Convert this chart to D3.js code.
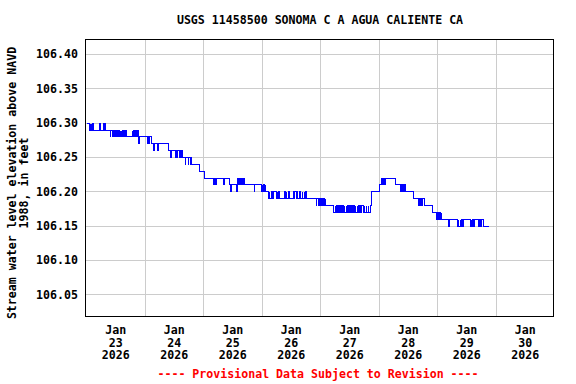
<!DOCTYPE html>
<html><head><meta charset="utf-8">
<script src="https://cdn.jsdelivr.net/npm/d3@7"></script>
<style>
body{margin:0;background:#fff}
svg text{font-family:"DejaVu Sans Mono","Liberation Mono",monospace;font-weight:bold;}
</style>
</head><body><svg id="c" width="576" height="384"></svg>
<script>
// ---- data ----
const title = "USGS 11458500 SONOMA C A AGUA CALIENTE CA";
const yTitleLines = ["Stream water level elevation above NAVD", "1988, in feet"];
const footer = "---- Provisional Data Subject to Revision ----";
const dayLabels = ["23","24","25","26","27","28","29","30"];
const monthLabel = "Jan";
const yearLabel = "2026";
const yTicks = [106.05,106.10,106.15,106.20,106.25,106.30,106.35,106.40];
// hours since Jan 23 2026 00:00 where the reading changes, and the level from then on
const hours = [0,1.25,1.5,1.75,2.0,2.25,2.5,2.75,5.5,5.75,7.0,7.25,7.5,7.75,
 9.75,10.0,10.5,10.75,11.25,11.5,11.75,12.0,12.25,12.5,12.75,13.0,13.5,13.75,14.0,14.25,14.5,14.75,15.0,15.25,15.75,16.0,16.5,
 18.75,19.0,19.25,19.5,19.75,20.25,20.5,20.75,21.0,21.25,21.5,21.75,
 25.0,25.25,25.75,26.0,26.5,27.5,27.75,29.25,29.5,33.75,34.5,34.75,
 36.5,36.75,37.25,37.5,38.0,38.25,38.75,39.0,39.5,40.5,40.75,41.75,42.0,42.5,42.75,43.0,
 46.25,48.5,52.25,52.5,52.75,53.25,56.0,56.5,58.75,59.25,59.5,61.5,61.75,
 62.0,62.5,62.75,63.0,63.75,64.0,64.25,64.75,68.75,69.0,
 71.75,72.0,72.25,72.5,73.0,73.25,73.5,74.75,75.0,75.25,75.75,76.5,76.75,78.0,78.25,78.5,78.75,79.0,
 81.25,81.5,82.0,82.25,83.0,83.25,85.0,85.25,85.5,86.0,86.25,86.5,87.25,87.75,88.5,88.75,89.25,89.5,89.75,90.25,
 94.25,94.5,95.0,95.25,95.75,96.0,96.25,96.5,97.0,97.25,97.5,98.0,98.25,
 101.5,102.0,102.25,102.75,103.0,103.5,103.75,104.25,104.5,105.0,105.25,105.75,106.0,106.5,106.75,107.25,107.5,108.0,108.25,108.75,
 109.0,109.5,110.0,110.25,110.5,111.0,111.25,111.75,112.0,112.5,112.75,113.0,113.5,114.0,114.25,114.75,115.0,115.5,115.75,
 116.5,116.75,117.0,120.25,121.0,121.5,121.75,122.25,122.5,126.75,
 129.0,129.25,129.5,129.75,130.25,130.5,130.75,134.0,136.25,136.5,137.0,137.25,137.75,138.0,138.5,141.75,
 143.75,144.0,144.5,144.75,145.25,145.5,145.75,148.5,148.75,
 152.25,152.5,152.75,153.25,153.5,154.0,154.25,154.5,157.5,157.75,158.0,158.25,158.75,159.0,
 161.0,161.25,161.75,162.25,163.0,164.75];
const levels = [106.30,106.29,106.30,106.29,106.30,106.29,106.30,106.29,106.30,106.29,106.30,106.29,106.30,106.29,
 106.28,106.29,106.28,106.29,106.28,106.29,106.28,106.29,106.28,106.29,106.28,106.29,106.28,106.29,106.28,106.29,106.28,106.29,106.28,106.29,106.28,106.29,106.28,
 106.29,106.28,106.29,106.28,106.29,106.28,106.29,106.28,106.29,106.28,106.27,106.28,
 106.27,106.28,106.27,106.28,106.27,106.26,106.27,106.26,106.27,106.26,106.25,106.26,
 106.25,106.26,106.25,106.26,106.25,106.26,106.25,106.26,106.25,106.24,106.25,106.24,106.25,106.24,106.25,106.24,
 106.23,106.22,106.21,106.22,106.21,106.22,106.21,106.22,106.21,106.20,106.21,106.20,106.21,
 106.22,106.21,106.22,106.21,106.22,106.21,106.22,106.21,106.20,106.21,
 106.20,106.21,106.20,106.21,106.20,106.21,106.20,106.19,106.20,106.19,106.20,106.19,106.20,106.19,106.20,106.19,106.20,106.19,
 106.20,106.19,106.20,106.19,106.20,106.19,106.20,106.19,106.20,106.19,106.20,106.19,106.20,106.19,106.20,106.19,106.20,106.19,106.20,106.19,
 106.18,106.19,106.18,106.19,106.18,106.19,106.18,106.19,106.18,106.19,106.18,106.19,106.18,
 106.17,106.18,106.17,106.18,106.17,106.18,106.17,106.18,106.17,106.18,106.17,106.18,106.17,106.18,106.17,106.18,106.17,106.18,106.17,106.18,
 106.17,106.18,106.17,106.18,106.17,106.18,106.17,106.18,106.17,106.18,106.17,106.18,106.17,106.18,106.17,106.18,106.17,106.18,106.17,
 106.18,106.19,106.20,106.21,106.22,106.21,106.22,106.21,106.22,106.21,
 106.20,106.21,106.20,106.21,106.20,106.21,106.20,106.19,106.18,106.19,106.18,106.19,106.18,106.19,106.18,106.17,
 106.16,106.17,106.16,106.17,106.16,106.17,106.16,106.15,106.16,
 106.15,106.16,106.15,106.16,106.15,106.16,106.15,106.16,106.15,106.16,106.15,106.16,106.15,106.16,
 106.15,106.16,106.15,106.16,106.15,106.15];

// ---- layout ----
const L = 86, R = 554, T = 39, B = 316;
const t0 = new Date(Date.UTC(2026,0,23));
const t1 = new Date(Date.UTC(2026,0,31));
const hourMs = 3600e3;
const svg = d3.select("#c");
svg.append("rect").attr("width",576).attr("height",384).attr("fill","#fff");

const x = d3.scaleUtc().domain([t0,t1]).range([L,R]);
const y = d3.scaleLinear().domain([106.0184,106.4218]).range([B,T]);

// vertical grid at day boundaries
const gridDays = d3.utcDay.range(d3.utcDay.offset(t0,1), t1);
svg.append("g").attr("transform",`translate(0,${B})`)
  .call(d3.axisBottom(x).tickValues(gridDays).tickSize(-(B-T)).tickFormat(""))
  .call(g=>g.select(".domain").remove())
  .call(g=>g.selectAll("line").attr("stroke","#cccccc").attr("shape-rendering","crispEdges"));

// horizontal grid + labels
svg.append("g").attr("transform",`translate(${L},0)`)
  .call(d3.axisLeft(y).tickValues(yTicks).tickSize(-(R-L)).tickPadding(8).tickFormat(d3.format(".2f")))
  .call(g=>g.select(".domain").remove())
  .call(g=>g.selectAll("line").attr("stroke","#cccccc").attr("shape-rendering","crispEdges"))
  .call(g=>g.selectAll("text").attr("fill","#000").style("font-size","11.6px")
     .style("font-family","DejaVu Sans Mono").style("font-weight","bold"));

// date labels at noon
const noons = dayLabels.map((d,i)=>new Date(t0.getTime() + (i*24+12)*hourMs));
const xl = svg.append("g").attr("transform",`translate(0,${B})`)
  .call(d3.axisBottom(x).tickValues(noons).tickSize(0).tickFormat(""));
xl.select(".domain").remove();
xl.selectAll(".tick").each(function(d,i){
  const t = d3.select(this).append("text").attr("fill","#000").attr("text-anchor","middle")
    .style("font-size","11.6px");
  [monthLabel, dayLabels[i], yearLabel].forEach((s,k)=>{
    t.append("tspan").attr("x",0).attr("y",18 + k*12.7).text(s);
  });
});

// data line
const pts = hours.map((h,i)=>({t:new Date(t0.getTime()+h*hourMs), v:levels[i]}));
svg.append("path").datum(pts)
  .attr("fill","none").attr("stroke","#0000ff").attr("stroke-width",1)
  .attr("shape-rendering","crispEdges")
  .attr("d", d3.line().x(d=>Math.round(x(d.t))+0.5).y(d=>Math.round(y(d.v))+0.5).curve(d3.curveStepAfter));

// frame
svg.append("rect").attr("x",L-0.5).attr("y",T+0.5).attr("width",R-L).attr("height",B-T)
  .attr("fill","none").attr("stroke","#000").attr("stroke-width",1).attr("shape-rendering","crispEdges");

// titles
svg.append("text").attr("x",320).attr("y",24).attr("text-anchor","middle")
  .style("font-size","11.6px").attr("fill","#000").text(title);
const yt = svg.append("text").attr("transform","translate(16,183) rotate(-90)")
  .attr("text-anchor","middle").style("font-size","11.6px").attr("fill","#000");
yt.append("tspan").attr("x",0).attr("y",0).text(yTitleLines[0]);
yt.append("tspan").attr("x",0).attr("y",11.5).text(yTitleLines[1]);
svg.append("text").attr("x",318).attr("y",378).attr("text-anchor","middle")
  .style("font-size","11.6px").attr("fill","#ff0000").text(footer);
</script>
</body></html>
